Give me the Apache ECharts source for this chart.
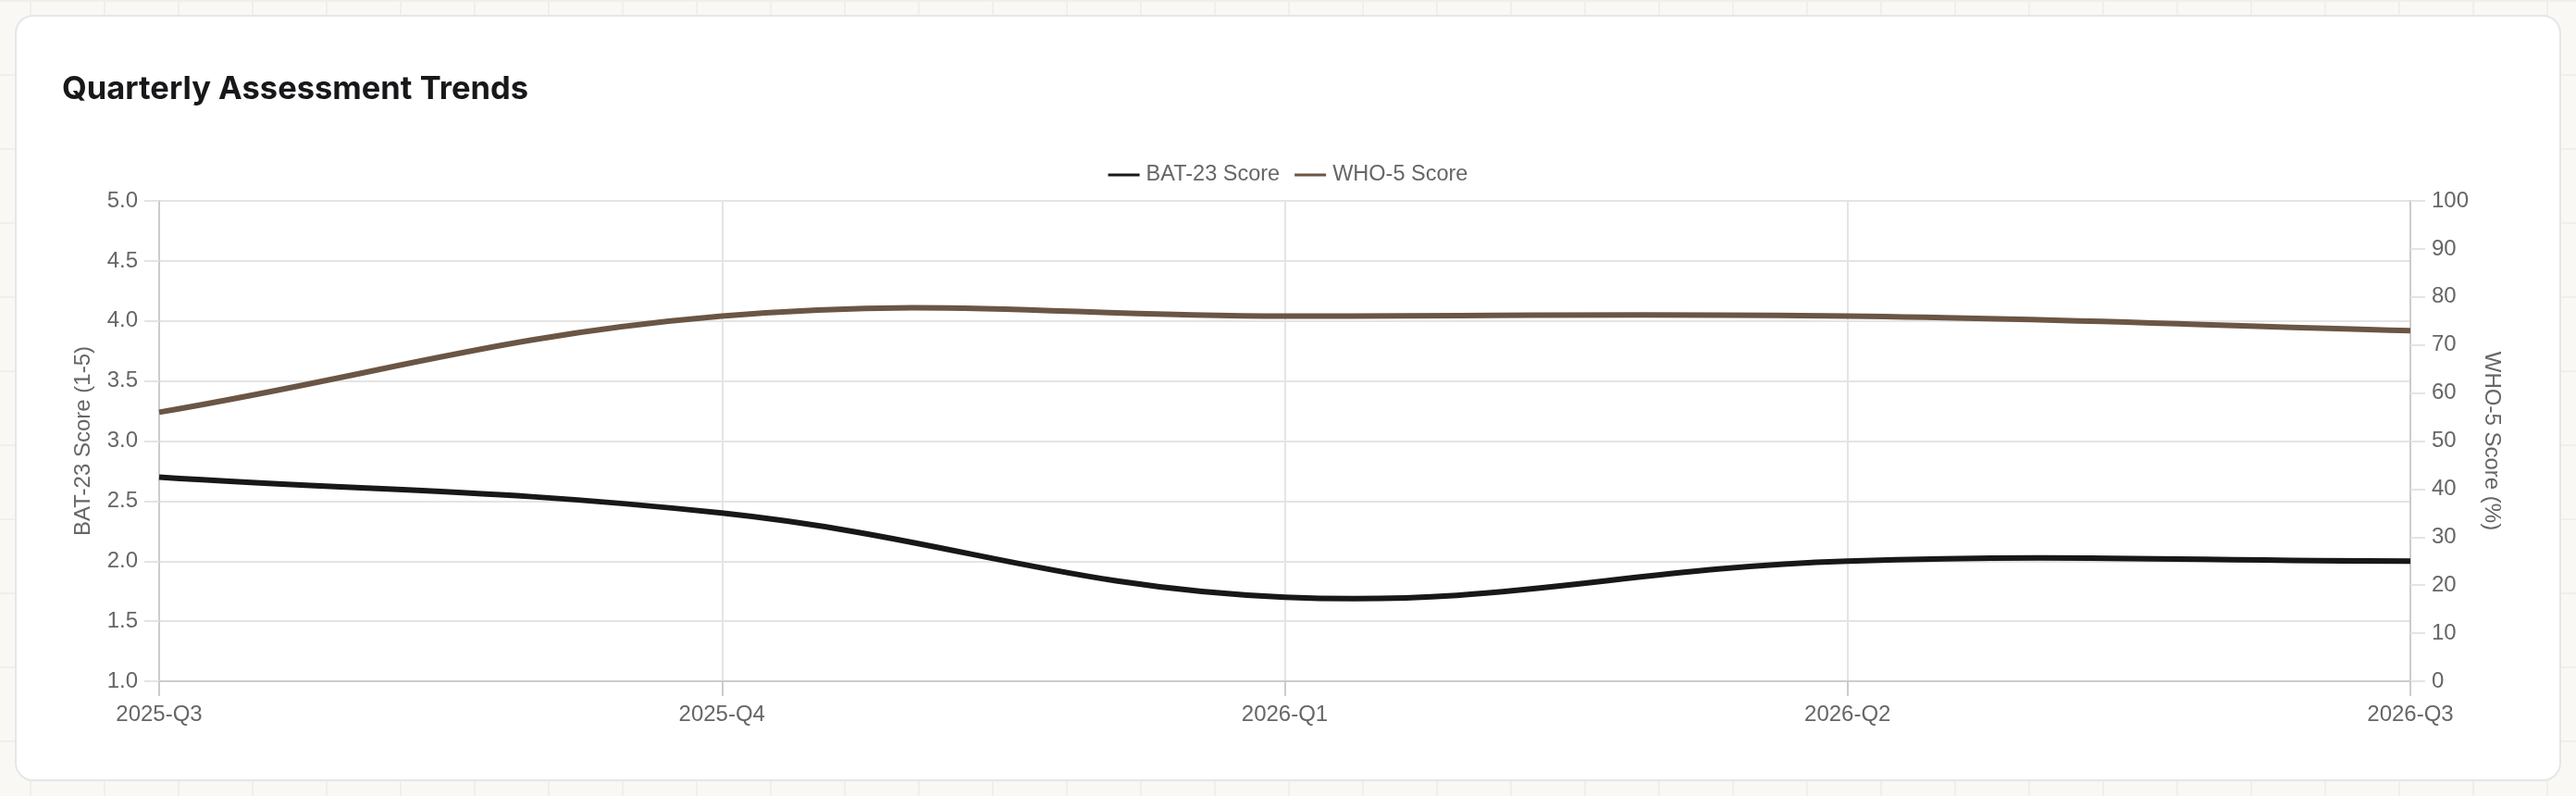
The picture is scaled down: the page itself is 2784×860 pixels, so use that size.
<!DOCTYPE html>
<html>
<head>
<meta charset="utf-8">
<title>Quarterly Assessment Trends</title>
<script src="https://cdn.jsdelivr.net/npm/echarts@6/dist/echarts.min.js"></script>
<style>
	html, body { margin: 0; padding: 0; width: 2784px; height: 860px; overflow: hidden; }
	body {
		background-color: #f9f8f5;
		background-image:
			linear-gradient(to right, #f0efea 2px, transparent 2px),
			linear-gradient(to bottom, #f0efea 2px, transparent 2px);
		background-size: 80px 80px;
		background-position: 32px 0px;
	}
	.card {
		position: absolute; left: 16px; top: 16px; width: 2748px; height: 824px;
		background: #ffffff; border: 2px solid #e6e6ea; border-radius: 20px;
	}
	#chart { position: absolute; left: 0; top: 0; width: 2784px; height: 860px; }
</style>
</head>
<body>
<div class="card"></div>
<div id="chart"></div>
<script>
	// quarters on the x axis
	const quarters = ['2025-Q3', '2025-Q4', '2026-Q1', '2026-Q2', '2026-Q3'];
	// BAT-23 burnout score, 1-5 (left axis)
	const bat23Scores = [2.7, 2.4, 1.7, 2.0, 2.0];
	// WHO-5 wellbeing score in % (right axis)
	const who5Scores = [56, 76, 76, 76, 73];

	const textColor = '#666666';
	const gridLineColor = '#e4e4e4';
	const axisLineColor = '#cccccc';
	const fontFamily = '"Liberation Sans", Arial, sans-serif';
	const tension = 0.4;

	/**
	 * Builds an svg path through the given pixel points, using a cardinal
	 * spline like the one of the original chart (control points not clamped,
	 * so the curve may overshoot a bit between equal values).
	 * */
	function buildSplinePath(pPoints) {
		let cps = [];
		for (let i = 0; i < pPoints.length; i++) {
			const prev = pPoints[Math.max(i - 1, 0)];
			const cur = pPoints[i];
			const next = pPoints[Math.min(i + 1, pPoints.length - 1)];
			const d01 = Math.hypot(cur[0] - prev[0], cur[1] - prev[1]);
			const d12 = Math.hypot(next[0] - cur[0], next[1] - cur[1]);
			let s01 = d01 / (d01 + d12);
			let s12 = d12 / (d01 + d12);
			s01 = isNaN(s01) ? 0 : s01;
			s12 = isNaN(s12) ? 0 : s12;
			const fa = tension * s01;
			const fb = tension * s12;
			cps.push({
				prev: [cur[0] - fa * (next[0] - prev[0]), cur[1] - fa * (next[1] - prev[1])],
				next: [cur[0] + fb * (next[0] - prev[0]), cur[1] + fb * (next[1] - prev[1])]
			});
		}
		let path = 'M' + pPoints[0][0] + ' ' + pPoints[0][1];
		for (let i = 1; i < pPoints.length; i++) {
			const c1 = cps[i - 1].next;
			const c2 = cps[i].prev;
			path += ' C' + c1[0] + ' ' + c1[1] + ' ' + c2[0] + ' ' + c2[1] + ' ' + pPoints[i][0] + ' ' + pPoints[i][1];
		}
		return path;
	}

	/** returns a renderItem function drawing the whole curve once, for the first item */
	function splineRenderer(pValues, pColor) {
		return function (params, api) {
			if (params.dataIndex !== 0) {
				return null;
			}
			const points = pValues.map((v, i) => api.coord([i, v]));
			return {
				type: 'path',
				shape: { pathData: buildSplinePath(points) },
				style: { fill: 'none', stroke: pColor, lineWidth: 6, lineJoin: 'round' },
				silent: true
			};
		};
	}

	const chart = echarts.init(document.getElementById('chart'), null, { renderer: 'canvas' });

	const option = {
		animation: false,
		textStyle: { fontFamily: fontFamily },
		title: {
			text: 'Quarterly Assessment Trends',
			left: 62, top: 74,
			textStyle: { fontFamily: 'Inter, sans-serif', fontSize: 34.5, fontWeight: 650, color: '#18181b' }
		},
		legend: {
			top: 172, left: 'center',
			icon: 'rect',
			itemWidth: 34, itemHeight: 3, itemGap: 16,
			textStyle: { fontSize: 23.5, color: textColor, fontFamily: fontFamily, padding: [0, 0, 0, 2] },
			data: ['BAT-23 Score', 'WHO-5 Score']
		},
		grid: { left: 172, right: 179, top: 217, bottom: 124 },
		xAxis: {
			type: 'category',
			data: quarters,
			boundaryGap: false,
			axisLine: { lineStyle: { color: axisLineColor, width: 2 } },
			axisTick: { show: true, length: 16, lineStyle: { color: axisLineColor, width: 2 } },
			axisLabel: { fontSize: 24, color: textColor, margin: 24 },
			splitLine: { show: true, lineStyle: { color: gridLineColor, width: 2 } }
		},
		yAxis: [
			{
				type: 'value',
				min: 1, max: 5, interval: 0.5,
				name: 'BAT-23 Score (1-5)',
				nameLocation: 'middle', nameGap: 70,
				nameTextStyle: { fontSize: 24, color: textColor },
				axisLine: { show: true, lineStyle: { color: axisLineColor, width: 2 } },
				axisTick: { show: true, length: 16, lineStyle: { color: gridLineColor, width: 2 } },
				axisLabel: { fontSize: 24, color: textColor, margin: 23, formatter: (v) => v.toFixed(1) },
				splitLine: { show: true, lineStyle: { color: gridLineColor, width: 2 } }
			},
			{
				type: 'value',
				min: 0, max: 100, interval: 10,
				name: 'WHO-5 Score (%)',
				nameLocation: 'middle', nameGap: 76, nameRotate: -90,
				nameTextStyle: { fontSize: 24, color: textColor },
				axisLine: { show: true, lineStyle: { color: axisLineColor, width: 2 } },
				axisTick: { show: true, length: 16, lineStyle: { color: gridLineColor, width: 2 } },
				axisLabel: { fontSize: 24, color: textColor, margin: 23 },
				splitLine: { show: false }
			}
		],
		series: [
			{
				name: 'BAT-23 Score',
				type: 'custom',
				yAxisIndex: 0,
				data: bat23Scores.map((v, i) => [i, v]),
				encode: { x: 0, y: 1 },
				itemStyle: { color: '#18181b' },
				renderItem: splineRenderer(bat23Scores, '#18181b')
			},
			{
				name: 'WHO-5 Score',
				type: 'custom',
				yAxisIndex: 1,
				data: who5Scores.map((v, i) => [i, v]),
				encode: { x: 0, y: 1 },
				itemStyle: { color: '#6b5545' },
				renderItem: splineRenderer(who5Scores, '#6b5545')
			}
		]
	};

	chart.setOption(option);
</script>
</body>
</html>
